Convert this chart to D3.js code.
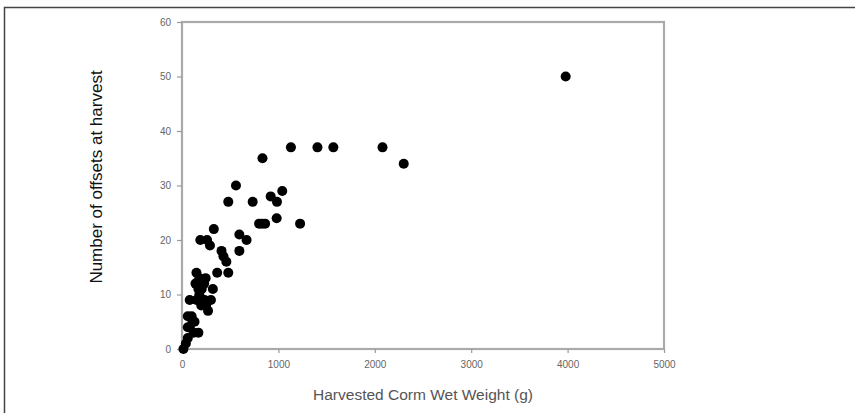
<!DOCTYPE html>
<html>
<head>
<meta charset="utf-8">
<script src="https://cdn.jsdelivr.net/npm/d3@7.9.0/dist/d3.min.js"></script>
<style>
  html, body { margin: 0; padding: 0; background: #fff; }
  svg { display: block; }
  .tick text { font-family: "Liberation Sans", Arial, sans-serif; font-size: 10px; fill: #666; }
</style>
</head>
<body>
<svg id="chart" width="855" height="413"></svg>
<script>
// corm wet weight (g) and offsets counted at harvest
const weights = [
  3980, 2080, 2300, 1570, 1405, 1130, 1225,
  835, 560, 480, 733, 920, 1040, 985, 982,
  800, 830, 862,
  595, 670, 595,
  330, 190, 260, 290,
  410, 430, 460,
  365, 480,
  150, 180, 230, 140, 205, 170, 245,
  320,
  80, 150, 200, 250, 300, 270, 180, 235,
  60, 100, 130, 80, 170, 60, 40, 15, 110, 60, 120
];
const offsets = [
  50, 37, 34, 37, 37, 37, 23,
  35, 30, 27, 27, 28, 29, 27, 24,
  23, 23, 23,
  21, 20, 18,
  22, 20, 20, 19,
  18, 17, 16,
  14, 14,
  14, 13, 12, 12, 11, 11, 13,
  11,
  9, 9, 8, 8, 9, 7, 10, 9,
  6, 6, 5, 4, 3, 2, 1, 0, 5, 4, 3
];
const xTicks = [0, 1000, 2000, 3000, 4000, 5000];
const yTicks = [0, 10, 20, 30, 40, 50, 60];

const points = weights.map((w, i) => ({ w: w, n: offsets[i] }));

const svg = d3.select('#chart');
const plot = { left: 182, right: 664, top: 22, bottom: 349 };

const x = d3.scaleLinear().domain([0, 5000]).range([plot.left, plot.right]);
const y = d3.scaleLinear().domain([0, 60]).range([plot.bottom, plot.top]);

// outer frame (only top and left edges show)
svg.append('path')
  .attr('d', 'M4.5,413 V7.5 H855')
  .attr('fill', 'none')
  .attr('stroke', '#444')
  .attr('stroke-width', 1.5);

// plot box
svg.append('rect')
  .attr('x', plot.left).attr('y', plot.top)
  .attr('width', plot.right - plot.left)
  .attr('height', plot.bottom - plot.top)
  .attr('fill', 'none')
  .attr('stroke', '#aaa')
  .attr('stroke-width', 2.2);

const xAxis = svg.append('g')
  .attr('transform', `translate(0,${plot.bottom})`)
  .call(d3.axisBottom(x).tickValues(xTicks).tickFormat(d3.format('d')).tickSize(4).tickPadding(8));

const yAxis = svg.append('g')
  .attr('transform', `translate(${plot.left},0)`)
  .call(d3.axisLeft(y).tickValues(yTicks).tickSize(5).tickPadding(6));

[xAxis, yAxis].forEach(g => {
  g.select('.domain').remove();
  g.selectAll('.tick line').attr('stroke', '#999').attr('stroke-width', 1.2);
});

// dots
svg.append('g')
  .selectAll('circle')
  .data(points)
  .join('circle')
  .attr('cx', d => x(d.w))
  .attr('cy', d => y(d.n))
  .attr('r', 5)
  .attr('fill', '#000');

// axis titles
svg.append('text')
  .attr('x', (plot.left + plot.right) / 2)
  .attr('y', 400)
  .attr('text-anchor', 'middle')
  .attr('font-family', '"Liberation Sans", Arial, sans-serif')
  .attr('font-size', 15.5)
  .attr('fill', '#555')
  .text('Harvested Corm Wet Weight (g)');

svg.append('text')
  .attr('transform', 'translate(102,177) rotate(-90)')
  .attr('text-anchor', 'middle')
  .attr('font-family', '"Liberation Sans", Arial, sans-serif')
  .attr('font-size', 17)
  .attr('fill', '#111')
  .text('Number of offsets at harvest');
</script>
</body>
</html>
